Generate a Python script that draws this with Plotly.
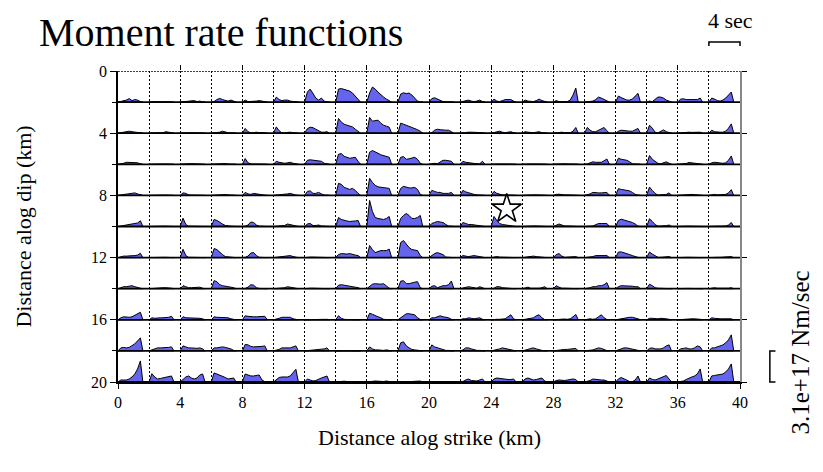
import plotly.graph_objects as go

# ---------------- data ----------------
# column start positions along strike (km) and row positions along dip (km)
STRIKE_KM = [0, 2, 4, 6, 8, 10, 12, 14, 16, 18, 20, 22, 24, 26, 28, 30, 32, 34, 36, 38]
DIP_KM = [2, 4, 6, 8, 10, 12, 14, 16, 18, 20]
# sampling times of each moment rate function (s); function starts at 0 s and ends at END_T
SAMPLE_T = [0.36, 0.72, 1.08, 1.44, 1.80, 2.16, 2.52, 2.88]
END_T = 3.2
# scale bars
TIME_BAR_SEC = 4.0          # "4 sec" bar
TIME_BAR_KM = 2.0           # its length on the strike axis
RATE_BAR = 31.0             # 3.1e+17 Nm/sec, in units of 1e16 Nm/s
RATE_BAR_KM = 2.0           # its length on the dip axis
HYPO_STRIKE, HYPO_DIP = 25.0, 8.87

# moment rates (1e16 Nm/s) for each subfault, one list per dip row
ROW_02 = [[0.5,1,2,3.5,1.5,2.5,2,0.5],[0.3,0.5,0.5,0.3,0.5,0.5,0.3,0.2],[0.3,0.5,0.5,1,1.5,0.5,1,0.3],[0.5,2.5,3.7,2.5,1.5,1,2,1],
          [2,0.5,0.5,0.8,1,1.5,1,0.3],[5,2.5,1.5,2,2,1,0.5,0.3],[10,13,9,4,2,4,1,0],[13,13.5,12.5,11.5,11,9,6,3],
          [9,15,13,10,7,5,3,1],[8,9.3,8.5,9,7,4,1,0.3],[3.5,4.3,3,2,0.5,0.3,0.3,0.3],[0.5,1,2,1,0.5,1,2,0.5],
          [3,1,0.5,1.5,2.5,2.5,2.5,1],[2,1,0.5,0.5,1.5,3,1.5,0.3],[1.5,0.5,0.3,0.3,0.5,2,7,14],[0.3,0.3,1,2.5,5,4,2.5,1],
          [6,4.5,3,2,2,3,6,8.7],[1,0.5,3,5,5,4,2,1],[3,3.3,2.5,2.5,2.5,2.5,2.5,4],[4,3,1.5,1,2,4,7,10]]
ROW_04 = [[0.5,1,1.5,2,1.5,1,1,0.5],[0.3,0.3,0.3,0.5,0.5,1.5,1,0.3],[0.3,0.5,0.5,0.5,0.3,0.3,0.3,0.2],[0.3,0.5,1,2,1,0.5,0.3,0.3],
          [4.7,1.5,0.3,0.5,1,0.5,0.8,0.3],[6.3,2.5,0.3,0.5,1,1,0.5,0.3],[4.5,6,5.5,4,2.5,1,1,1.5],[14.7,11,9,8,7,6.3,4,2],
          [15.7,12,12.5,13,10,8,7,6],[10,9,8,7,6,5,3.5,2],[0.5,3,4,3.5,3,3,3,1],[0.5,0.8,1,1,1,0.8,0.8,0.5],
          [0.5,1,2,1,0.5,1,1.5,0.5],[1.5,1,0.5,0.5,1,1.5,0.5,0.3],[0.3,0.5,1,0.5,0.3,0.5,2,5.7],[5.7,3,1.5,1.5,3,5,5.7,2.5],
          [2,3,2.5,2,2,2,3,4.7],[8,5,1,0.3,1.5,3.3,1.5,0.3],[0.3,0.5,1,1,0.8,1,1.5,1],[3,1.5,1,1,1,2,5,9.3]]
ROW_06 = [[0.3,1,2,2,2,2,1.5,0.5],[0.2,0.3,0.3,0.3,0.3,0.3,0.3,0.2],[0.3,0.5,0.7,0.7,0.5,0.3,0.3,0.2],[0.3,0.3,0.5,1,0.8,0.3,0.3,0.2],
          [5.7,1.5,0.3,0.3,0.3,0.3,0.3,0.2],[3,2,1.5,1,1.5,2,1,0.5],[4,4.5,4,4,3.5,3,1,0.3],[10,10.7,8,7,6,6.5,7,3],
          [12,13.7,12,11,9.5,8.5,7.5,7],[7,7.7,5,5.5,6,7,5,1],[0.5,1,0.5,2.5,4,4,3.5,3],[3,2,1.5,1.5,1,0.5,0.5,3],
          [0.3,0.3,0.3,0.3,0.3,0.3,0.3,0.3],[0.3,0.3,0.3,0.3,0.3,0.3,0.3,0.3],[0.3,0.3,0.5,0.5,0.3,0.3,0.3,0.3],[0.3,1.5,2.5,2,2,2,3.5,5.3],
          [6,5,4.5,4,2.5,0.5,0.3,0.2],[8.7,5,3,1,0.5,1.5,2.5,1],[0.3,0.3,0.8,1.8,1.5,0.5,0.3,0.3],[1.5,2,1.5,1,1,1.5,4,8.3]]
ROW_08 = [[0.5,1,1.5,1.5,2,2.5,1.5,0.5],[0.2,0.3,0.3,0.5,0.3,0.3,0.3,0.2],[2.5,2,0.5,0.3,0.3,0.3,0.3,0.2],[0.3,0.3,0.5,1,0.8,0.5,0.3,0.2],
          [3,1.5,1,2,1.5,0.5,0.3,0.2],[0.3,0.3,0.5,0.5,1.5,2,1,0.3],[4,4.5,2,2,3,1.5,0.3,0.2],[12,11,8,7,6,7,5,2],
          [17,13,10,8.5,8,7.5,7,7],[7,9,8,7.5,7.5,8,6,1],[5,4,3,3,2,2,2,3],[5,3.5,2.5,1.5,1,0.5,0.5,0.3],
          [4,2,1,0.5,0.5,0.3,0.3,0.2],[0.3,0.3,0.3,0.5,0.5,0.3,0.3,0.2],[1,1.2,0.5,0.5,0.5,0.5,0.5,0.3],[0.5,1.5,3,2.5,2.5,2.5,2.5,3],
          [6.7,6,5.5,5,4.5,3,1,0.3],[8.3,5,2,0.3,0.3,0.5,1,2.5],[0.3,0.3,0.5,0.8,1,0.8,0.5,0.3],[0.5,1,0.5,0.5,0.5,1,2.5,5.7]]
ROW_10 = [[0.5,1,1.5,2,2.5,3,3.5,5.7],[0.2,0.3,0.3,0.3,0.3,0.3,0.3,0.2],[8.3,2,0.3,0.3,0.3,0.3,0.3,0.2],[7,6,4,2.5,1,0.3,0.3,0.2],
          [0.3,1.5,4.5,4,1.5,0.3,0.3,0.2],[0.3,0.3,0.5,1,2.5,2,1,0.3],[2.5,3,1,1,1.5,0.5,0.3,0.2],[9,7,6,5.5,5,5,5.5,6],
          [26,15,9,8,7.5,7,8,10],[8,11,13,11,8,8,9,11],[3,4,5,4.5,4,2,0.5,0.3],[4,3,2,2,1.5,1,0.5,0.3],
          [10,6,3,2,1.5,1,0.5,0.3],[0.3,0.3,0.3,0.5,0.5,0.5,0.3,0.2],[1.5,2.5,1.5,0.5,0.5,0.5,0.5,0.3],[0.5,0.3,0.5,2,3,3,3,3],
          [6,7.3,6.5,6,5,4,2.5,0.3],[7.7,5,2,0.3,0.3,0.3,0.8,1.5],[0.3,0.3,0.3,0.3,0.3,0.3,0.3,0.2],[0.3,0.3,0.3,0.3,0.3,0.5,1.5,4]]
ROW_12 = [[1,1.5,1.5,1.5,1.5,2,2.5,4.3],[0.2,0.3,0.3,0.3,0.3,0.3,0.3,0.2],[8.3,2,0.3,0.3,0.3,0.3,0.3,0.2],[9,8,5,3,1,0.5,0.3,0.2],
          [0.3,1.5,4.5,5,2,0.3,0.3,0.2],[0.3,0.3,0.5,1,1.5,2,1,0.3],[0.5,0.5,0.5,0.5,0.5,0.5,0.5,0.3],[3,4,3.5,3.5,4,3,2.5,2],
          [12,8,5,6,7,7,7,8.5],[15,17,13,10,8,7.5,7,2],[2,4,5,4,3,0.5,0.3,0.2],[2,1.5,1,1.5,2,1.5,1,0.5],
          [0.5,1,0.5,0.5,0.5,0.5,0.3,0.2],[0.3,0.5,1,1.5,1,0.5,0.3,0.2],[3,4,1.5,0.3,0.3,0.5,0.8,1],[0.3,0.5,1,2,2,2,2,2],
          [5.5,5.7,5,4,3,2,0.8,0.2],[5.5,3.5,1.5,0.3,0.3,0.3,0.5,1],[0.3,0.3,0.3,0.3,0.3,0.3,0.3,0.2],[0.3,0.3,0.3,0.3,0.3,0.3,0.5,1]]
ROW_14 = [[1,2,2,2.5,3,2,1,0.5],[0.3,0.5,1,1,1,1,1,0.5],[3,2,1,1,1,1,1.5,0.5],[8,7,4,3,2.5,2,2,1],
          [0.3,1.5,4,3.5,1,0.3,0.3,0.2],[0.3,0.3,0.5,1,2,1.5,0.5,0.3],[0.5,0.5,0.5,0.5,0.5,0.5,0.5,0.3],[3.5,4,3.5,3,3,2.5,2,1],
          [2.5,4.5,5,4.5,4.5,5,3,0.5],[7.5,8,5,5,6,6.5,7,1],[2.5,3,1,2,3,3,4,7.7],[0.5,1.5,2,1.5,1,0.5,2,1],
          [0.5,2,2,1,1,0.5,0.3,0.2],[1,1.5,0.5,0.3,0.3,0.5,1,2],[3,1.5,0.5,0.5,0.5,0.5,0.5,0.3],[0.3,1,2,2,3,3,4,6],
          [2,3,3,3,3,2.5,2,2],[4.5,3,1,0.5,0.5,0.5,0.3,0.3],[0.3,0.3,0.3,0.3,0.3,0.3,0.3,0.2],[0.5,1,0.5,0.3,0.5,0.5,0.5,1]]
ROW_16 = [[2,3,2.5,2.5,3,4.5,6,7.5],[2,1.5,2,2,2,2,2.5,3.5],[3,2,2,2,1.5,1.5,1.5,1],[3,2.5,2.5,2.5,2,2,1,0.5],
          [4,3.5,3,3,3,3,3,3.5],[0.5,1.5,2.5,2.5,2,2.5,1,0.3],[0.3,0.3,0.3,0.3,0.3,0.5,1,0.5],[4,1.5,0.5,0.3,0.3,0.3,0.3,0.2],
          [6.5,5.5,4,3,2,0.5,0.3,0.2],[2,4,6,6,5.5,5,2,0.3],[2,2,3,4,3,2.5,2,0.5],[1,1,2,1.5,1,1.5,2,0.5],
          [0.5,0.5,0.5,0.5,1,3,5,1],[0.5,0.5,1.5,2,4,5,2,0.3],[0.3,0.5,1,0.8,0.5,1,3,5.3],[0.5,1,0.5,1,3,5,2,0.3],
          [0.5,1,1.5,2.5,2.5,2.5,2,1],[1.5,1.5,1,1,1.5,1.5,1,0.5],[0.3,0.5,1,1,1,1,1,0.5],[2,1.5,1,1,1,1,1.5,1]]
ROW_18 = [[3,3.5,3,3.5,5,7,10,13],[1,2,3,3,3,3,3.5,4],[5,4,3,3,2.5,2.5,3,2],[3,3,3.5,4,3.5,3,2,0.5],
          [6.5,6,4.5,4,4,4,4.5,5],[0.5,1.5,3,3,3,3,4,5],[0.3,0.5,1,1,1,1.5,2,3],[0.3,0.3,0.3,0.3,0.3,0.3,0.3,0.2],
          [4,2,1,1,0.5,0.5,1,0.5],[8,9,5,3,1.5,1,0.5,0.3],[6,4,3,2,1,0.5,0.5,0.3],[1,3,3,2,1,0.5,0.5,0.3],
          [0.5,1,2,3,2.5,1.5,1,0.5],[0.5,1.5,2.5,3,2,1,0.5,0.3],[0.5,1,1.5,1.5,1.5,2,2.5,2.5],[0.3,0.5,1,2,3,2.5,1,0.3],
          [1,2,3,3,2.5,2,1,0.5],[2.5,3,2,2,2,3,5,6],[2,2.5,3,2,2,3,5,4],[3,3,4,5,6,8,11,16]]
ROW_20 = [[2,2,2,3,5,8,13,21],[8.3,5,3,3.5,4,5,5.5,6],[3,5,6,4,3,4,7,8],[9,8,7,6,4.5,3,3.5,4],
          [8,7,6,6,6.5,7,2,0.3],[2,4.5,5,5,5,6,9,12.7],[3,2,1,1.5,3,4,5,6],[0.5,1,0.8,0.5,0.5,0.5,0.5,0.3],
          [0.5,0.5,1,0.8,0.5,0.5,1,0.5],[0.3,0.5,0.5,0.5,0.5,0.5,0.5,1],[0.3,0.3,0.3,0.3,0.3,0.3,0.3,0.2],[0.5,2,3,1.5,1,1,2,3],
          [3,4,3.5,3,2.5,2.5,2.5,3],[3,4,3,2,2.5,3,4,1],[1.5,2,1.5,1.5,2,2.5,3,2.5],[0.5,1.5,3,2.5,2,2,2,1],
          [3,4.5,3,2,0.5,0.3,2,6],[4,2.5,2,3,4,5,6.5,3],[0.5,1,2.5,4,5,6,8,13],[6,6.5,7,7.5,8,10,13,18]]

ROWS = [ROW_02, ROW_04, ROW_06, ROW_08, ROW_10, ROW_12, ROW_14, ROW_16, ROW_18, ROW_20]

# ---------------- build figure ----------------
KM_PER_SEC = TIME_BAR_KM / TIME_BAR_SEC
KM_PER_RATE = RATE_BAR_KM / RATE_BAR

xs, ys = [], []
for dip, row in zip(DIP_KM, ROWS):
    for x0, rates in zip(STRIKE_KM, row):
        px = [x0] + [x0 + t * KM_PER_SEC for t in SAMPLE_T] + [x0 + END_T * KM_PER_SEC]
        py = [dip] + [dip - r * KM_PER_RATE for r in rates] + [dip]
        xs += px + [x0, None]
        ys += py + [dip, None]

base_x, base_y = [], []
for dip in DIP_KM:
    base_x += [0, 40, None]
    base_y += [dip, dip, None]

FONT = "Liberation Serif"
fig = go.Figure()
fig.add_trace(go.Scatter(x=xs, y=ys, mode="lines", fill="toself", fillcolor="#6464EE",
                         line=dict(color="black", width=1), hoverinfo="skip", showlegend=False))
fig.add_trace(go.Scatter(x=base_x, y=base_y, mode="lines", line=dict(color="black", width=1.8),
                         hoverinfo="skip", showlegend=False))
fig.add_trace(go.Scatter(x=[HYPO_STRIKE], y=[HYPO_DIP], mode="markers",
                         marker=dict(symbol="star", size=22, color="white", line=dict(color="black", width=1.6)),
                         showlegend=False, hoverinfo="skip"))
fig.add_trace(go.Scatter(x=[None], y=[None], xaxis="x2", yaxis="y2", showlegend=False))

fig.update_layout(
    width=823, height=472, margin=dict(l=118, r=83, t=71, b=90),
    paper_bgcolor="white", plot_bgcolor="white",
    font=dict(family=FONT, color="black", size=16),
    xaxis=dict(range=[0, 40], tickvals=list(range(0, 41, 4)), ticks="outside", ticklen=5, tickcolor="black",
               showline=True, linecolor="black", linewidth=1.5, zeroline=False,
               showgrid=True, gridcolor="black", gridwidth=1, griddash="2px,2px",
               minor=dict(dtick=2, showgrid=True, gridcolor="black", gridwidth=1, griddash="2px,2px"),
               tickfont=dict(size=16, family=FONT)),
    xaxis2=dict(range=[0, 40], overlaying="x", side="top", tickvals=list(range(4, 40, 4)), ticks="outside",
                ticklen=5, tickcolor="black", showticklabels=False, showline=False, showgrid=False, zeroline=False),
    yaxis=dict(range=[20, 0], tickvals=list(range(0, 21, 4)), ticks="outside", ticklen=6, tickcolor="black",
               showline=True, linecolor="black", linewidth=1.5, zeroline=False, showgrid=False,
               minor=dict(dtick=2, ticks="outside", ticklen=4, tickcolor="black"),
               tickfont=dict(size=16, family=FONT)),
    yaxis2=dict(range=[20, 0], overlaying="y", side="right", tickvals=list(range(0, 21, 4)), ticks="outside",
                ticklen=5, tickcolor="black", showticklabels=False, showline=True, linecolor="#888888",
                linewidth=2, showgrid=False, zeroline=False),
)

# top dotted border
fig.add_shape(type="line", xref="x", yref="y", x0=0, x1=40, y0=0, y1=0,
              line=dict(color="black", width=1.5, dash="2px,1px"))

# time scale bar (4 sec) above the right end
bx1 = 1.0
bx0 = 1.0 - TIME_BAR_KM / 40
by = 1.093
fig.add_shape(type="path", xref="paper", yref="paper",
              path=f"M {bx0},{by-0.013} L {bx0},{by} L {bx1},{by} L {bx1},{by-0.013}",
              line=dict(color="black", width=1.5))
# moment rate scale bar
vx = 1.048
vy1 = RATE_BAR_KM / 20
fig.add_shape(type="path", xref="paper", yref="paper",
              path=f"M {vx+0.009},0 L {vx},0 L {vx},{vy1} L {vx+0.009},{vy1}",
              line=dict(color="black", width=1.5))

ann = [
    dict(text="Moment rate functions", x=-0.1302, y=1.125, xanchor="left", yanchor="middle", font=dict(size=40)),
    dict(text="4 sec", x=0.9855, y=1.161, xanchor="center", yanchor="middle", font=dict(size=22)),
    dict(text="3.1e+17 Nm/sec", x=1.0965, y=0.095, xanchor="center", yanchor="middle", textangle=-90, font=dict(size=25)),
    dict(text="Distance alog strike (km)", x=0.5, y=-0.18, xanchor="center", yanchor="middle", font=dict(size=22)),
    dict(text="Distance alog dip (km)", x=-0.1527, y=0.5, xanchor="center", yanchor="middle", textangle=-90, font=dict(size=22)),
]
for a in ann:
    fig.add_annotation(xref="paper", yref="paper", showarrow=False, font_family=FONT, font_color="black", **{k: v for k, v in a.items()})

fig.write_html("out.html")
